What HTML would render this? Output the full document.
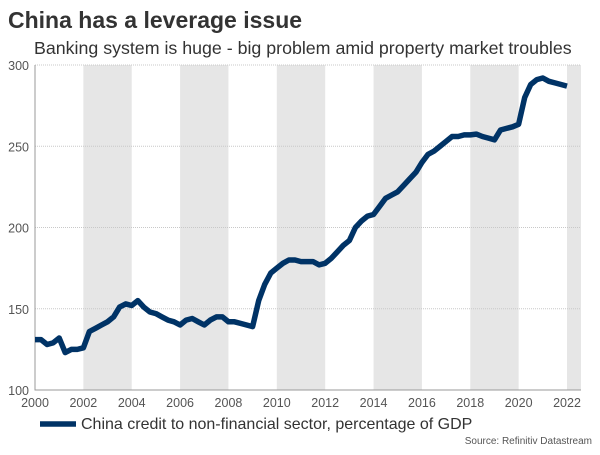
<!DOCTYPE html>
<html><head><meta charset="utf-8"><style>
body{margin:0;background:#fff;font-family:"Liberation Sans",sans-serif;}
svg text{font-family:"Liberation Sans",sans-serif;}
</style></head><body>
<svg width="600" height="450" id="c">
<text x="8" y="28" font-size="23" font-weight="bold" fill="#333">China has a leverage issue</text>
<text x="34" y="54" font-size="17.8" fill="#333">Banking system is huge - big problem amid property market troubles</text>
<g id="bands"></g><g id="grid"></g><g id="axes"></g><g id="series"></g>
<line x1="40" y1="424" x2="76" y2="424" stroke="#003366" stroke-width="5.5"/>
<text x="81" y="429" font-size="16" fill="#333">China credit to non-financial sector, percentage of GDP</text>
<text x="592" y="444" font-size="10" fill="#555" text-anchor="end">Source: Refinitiv Datastream</text>
</svg>
<script>
const startYear = 2000;
const values = [131,131,128,129,132,123,125,125,126,136,138,140,142,145,151,153,152,155,151,148,147,145,143,142,140,143,144,142,140,143,145,145,142,142,141,140,139,155,165,172,175,178,180,180,179,179,179,177,178,181,185,189,192,200,204,207,208,213,218,220,222,226,230,234,240,245,247,250,253,256,256,257,257,257.5,256,255,254,260,261,262,263.5,280,288,291,292,290,289,288,287];
const yTicks = [100,150,200,250,300];
const xTicks = [2000,2002,2004,2006,2008,2010,2012,2014,2016,2018,2020,2022];
const bandStarts = [2002,2006,2010,2014,2018,2022];
const L=35,R=581,T=65,B=390;
const xs=y=>L+(y-2000)*(567-35)/22;
const ys=v=>B-(v-100)*(B-T)/200;
const NS='http://www.w3.org/2000/svg';
function mk(p,t,a){const e=document.createElementNS(NS,t);for(const k in a)e.setAttribute(k,a[k]);document.getElementById(p).appendChild(e);return e;}
bandStarts.forEach(b=>{const x1=xs(b),x2=Math.min(xs(b+2),R);
 const r=mk('bands','rect',{x:x1,y:T,width:x2-x1,height:B-T,fill:'#e6e6e6'});
 
 });
yTicks.forEach(v=>{
 if(v>100){const l=mk('grid','line',{x1:L,x2:R,y1:ys(v),y2:ys(v),stroke:'#c8c8c8','stroke-dasharray':'1,1'});
 
 }
 const t=mk('axes','text',{x:29,y:ys(v)+5,'font-size':12.5,fill:'#555','text-anchor':'end'});t.textContent=v;
 
 });
xTicks.forEach(y=>{const t=mk('axes','text',{x:xs(y),y:407,'font-size':12.5,fill:'#555','text-anchor':'middle'});t.textContent=y;
 
 });
const ax=mk('axes','path',{d:`M${L},${T}V${B}H${R}`,fill:'none',stroke:'#999','stroke-width':1});


const pts=values.map((v,i)=>xs(startYear+i/4).toFixed(1)+','+ys(v).toFixed(1));
const ln=mk('series','polyline',{points:pts.join(' '),fill:'none',stroke:'#003366','stroke-width':5.5,'stroke-linejoin':'round'});


</script>
</body></html>
